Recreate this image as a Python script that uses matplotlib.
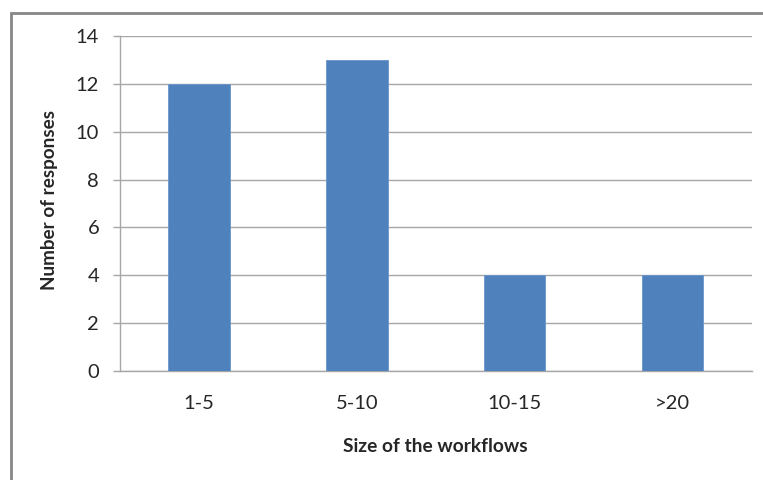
import matplotlib
matplotlib.use("Agg")
import matplotlib.pyplot as plt
from matplotlib.patches import Rectangle

categories = ["1-5", "5-10", "10-15", ">20"]
responses = [12, 13, 4, 4]
y_ticks = [0, 2, 4, 6, 8, 10, 12, 14]

plt.rcParams["font.family"] = ["Lato", "DejaVu Sans"]

W, H, DPI = 763, 480, 100
fig = plt.figure(figsize=(W / DPI, H / DPI), dpi=DPI)

# chart frame (runs off the right and bottom edges)
fig.patches.append(Rectangle((10.5 / W, -0.1), 1.2, (H - 13.5) / H + 0.1,
                             transform=fig.transFigure, fill=False,
                             edgecolor="#878787", linewidth=2.0))

left, right = 120 / W, 751.5 / W
bottom, top = (H - 371) / H, (H - 36) / H
ax = fig.add_axes([left, bottom, right - left, top - bottom])

x = range(len(categories))
ax.bar(x, responses, width=0.39, color="#4F81BD", edgecolor="#6A95C9", linewidth=0.6, zorder=3)

ax.set_xlim(-0.5, len(categories) - 0.5)
ax.set_ylim(0, 14)
ax.set_yticks(y_ticks)
ax.set_xticks(list(x))
ax.set_xticklabels(categories)
ax.yaxis.grid(True, color="#A6A6A6", linewidth=1.0, zorder=0)
ax.set_axisbelow(True)

for s in ["top", "right"]:
    ax.spines[s].set_visible(False)
for s in ["left", "bottom"]:
    ax.spines[s].set_color("#A6A6A6")
    ax.spines[s].set_linewidth(1.0)

ax.tick_params(axis="y", length=5, width=1.0, color="#A6A6A6", labelsize=14.5,
               labelcolor="#262626", pad=10)
ax.tick_params(axis="x", length=0, labelsize=14.5, labelcolor="#262626", pad=17)

ax.set_xlabel("Size of the workflows", fontsize=13.8, fontweight="bold", color="#262626")
ax.set_ylabel("Number of responses", fontsize=13.6, fontweight="bold", color="#262626")
ax.xaxis.set_label_coords(0.5, (371 - 447) / 335)
ax.xaxis.label.set_va("center")
ax.yaxis.set_label_coords((50 - 120) / 631.5, 0.51)
ax.yaxis.label.set_va("center")

fig.savefig("out.png", dpi=DPI)
